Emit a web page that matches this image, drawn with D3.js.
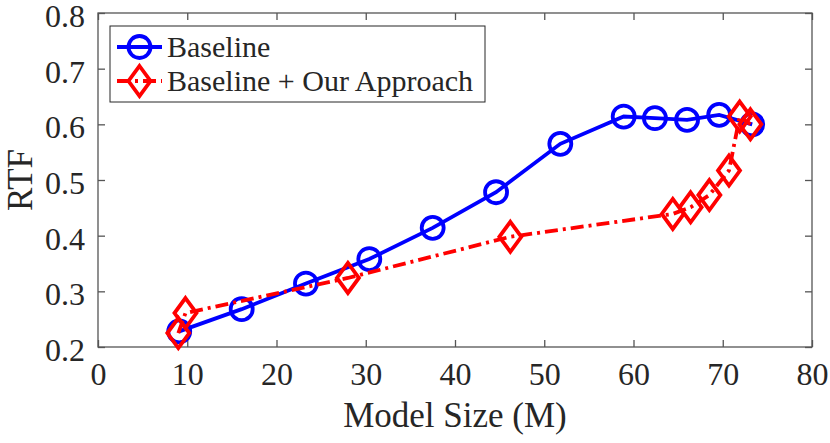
<!doctype html>
<html>
<head>
<meta charset="UTF-8">
<title>RTF vs Model Size</title>
<script src="https://d3js.org/d3.v7.min.js"></script>
<style>
  body { margin: 0; background: #fff; }
  text { font-family: "Liberation Serif", "Times New Roman", serif; fill: #262626; }
</style>
</head>
<body>
<svg id="chart" width="830" height="443"></svg>
<script>
// data
var baseSize = [9.1, 16.1, 23.3, 30.4, 37.5, 44.6, 51.8, 58.9, 62.4, 66.0, 69.6, 73.3];
var baseRtf  = [0.228, 0.268, 0.314, 0.358, 0.414, 0.478, 0.565, 0.614, 0.611, 0.608, 0.617, 0.600];
var oursSize = [9.0, 9.8, 28.0, 46.2, 64.4, 66.4, 68.5, 70.7, 71.9, 73.1];
var oursRtf  = [0.225, 0.261, 0.324, 0.398, 0.439, 0.451, 0.473, 0.517, 0.614, 0.600];
var xTicks = [0, 10, 20, 30, 40, 50, 60, 70, 80];
var yTicks = [0.2, 0.3, 0.4, 0.5, 0.6, 0.7, 0.8];
var seriesNames = ["Baseline", "Baseline + Our Approach"];

var svg = d3.select("#chart");
var pLeft = 98, pRight = 812, pTop = 13, pBottom = 347;

var x = d3.scaleLinear().domain([0, 80]).range([pLeft, pRight]);
var y = d3.scaleLinear().domain([0.2, 0.8]).range([pBottom, pTop]);

var axisColor = "#555";

// axes box
svg.append("rect")
    .attr("x", pLeft).attr("y", pTop)
    .attr("width", pRight - pLeft).attr("height", pBottom - pTop)
    .attr("fill", "none").attr("stroke", axisColor).attr("stroke-width", 1.3);

// x ticks (bottom + top, inward)
var xAxis = d3.axisBottom(x).tickValues(xTicks).tickSizeInner(-7).tickSizeOuter(0).tickPadding(15);
var gx = svg.append("g").attr("transform", "translate(0," + pBottom + ")").call(xAxis);
gx.select(".domain").remove();
gx.selectAll("line").attr("stroke", axisColor).attr("stroke-width", 1.3);
gx.selectAll("text").attr("font-size", 32).attr("fill", "#262626")
    .attr("font-family", "Liberation Serif");

var gxt = svg.append("g").attr("transform", "translate(0," + pTop + ")")
    .call(d3.axisTop(x).tickValues(xTicks).tickSizeInner(-7).tickSizeOuter(0).tickFormat(""));
gxt.select(".domain").remove();
gxt.selectAll("line").attr("stroke", axisColor).attr("stroke-width", 1.3);

// y ticks (left + right, inward)
var yAxis = d3.axisLeft(y).tickValues(yTicks).tickSizeInner(-7).tickSizeOuter(0).tickPadding(13)
    .tickFormat(d3.format(".1f"));
var gy = svg.append("g").attr("transform", "translate(" + pLeft + ",0)").call(yAxis);
gy.select(".domain").remove();
gy.selectAll("line").attr("stroke", axisColor).attr("stroke-width", 1.3);
gy.selectAll("text").attr("font-size", 32).attr("fill", "#262626")
    .attr("font-family", "Liberation Serif").attr("dy", "0.42em");

var gyr = svg.append("g").attr("transform", "translate(" + pRight + ",0)")
    .call(d3.axisRight(y).tickValues(yTicks).tickSizeInner(-7).tickSizeOuter(0).tickFormat(""));
gyr.select(".domain").remove();
gyr.selectAll("line").attr("stroke", axisColor).attr("stroke-width", 1.3);

// axis labels
svg.append("text")
    .attr("x", (pLeft + pRight) / 2).attr("y", 427)
    .attr("text-anchor", "middle").attr("font-size", 35)
    .text("Model Size (M)");

svg.append("text")
    .attr("transform", "translate(32," + ((pTop + pBottom) / 2) + ") rotate(-90)")
    .attr("text-anchor", "middle").attr("font-size", 35)
    .text("RTF");

// lines
var line = d3.line().x(function (d) { return x(d[0]); }).y(function (d) { return y(d[1]); });

var base = baseSize.map(function (s, i) { return [s, baseRtf[i]]; });
var ours = oursSize.map(function (s, i) { return [s, oursRtf[i]]; });

var diamond = function (cx, cy) {
    return "M" + cx + "," + (cy - 15) + "L" + (cx + 11) + "," + cy +
        "L" + cx + "," + (cy + 15) + "L" + (cx - 11) + "," + cy + "Z";
};

svg.append("path").datum(base).attr("d", line)
    .attr("fill", "none").attr("stroke", "#0000ff").attr("stroke-width", 3.8);
svg.selectAll(".circ").data(base).enter().append("circle")
    .attr("class", "circ")
    .attr("cx", function (d) { return x(d[0]); })
    .attr("cy", function (d) { return y(d[1]); })
    .attr("r", 11)
    .attr("fill", "none").attr("stroke", "#0000ff").attr("stroke-width", 3.8);

svg.append("path").datum(ours).attr("d", line)
    .attr("fill", "none").attr("stroke", "#ff0000").attr("stroke-width", 3.8)
    .attr("stroke-dasharray", "13,5,3,5");
svg.selectAll(".dia").data(ours).enter().append("path")
    .attr("class", "dia")
    .attr("d", function (d) { return diamond(x(d[0]), y(d[1])); })
    .attr("fill", "none").attr("stroke", "#ff0000").attr("stroke-width", 3.8);

// legend
var lg = svg.append("g");
lg.append("rect")
    .attr("x", 110).attr("y", 26).attr("width", 375).attr("height", 76)
    .attr("fill", "#fff").attr("stroke", "#262626").attr("stroke-width", 1);

var rows = [47, 81];
lg.append("line").attr("x1", 117).attr("x2", 162).attr("y1", rows[0]).attr("y2", rows[0])
    .attr("stroke", "#0000ff").attr("stroke-width", 3.8);
lg.append("circle").attr("cx", 139.5).attr("cy", rows[0]).attr("r", 11)
    .attr("fill", "none").attr("stroke", "#0000ff").attr("stroke-width", 3.8);
lg.append("line").attr("x1", 117).attr("x2", 162).attr("y1", rows[1]).attr("y2", rows[1])
    .attr("stroke", "#ff0000").attr("stroke-width", 3.8).attr("stroke-dasharray", "13,5,3,5");
lg.append("path").attr("d", diamond(139.5, rows[1]))
    .attr("fill", "none").attr("stroke", "#ff0000").attr("stroke-width", 3.8);

lg.selectAll(".lt").data(seriesNames).enter().append("text")
    .attr("class", "lt")
    .attr("x", 167)
    .attr("y", function (d, i) { return rows[i] + 10; })
    .attr("font-size", 30)
    .text(function (d) { return d; });
</script>
</body>
</html>
